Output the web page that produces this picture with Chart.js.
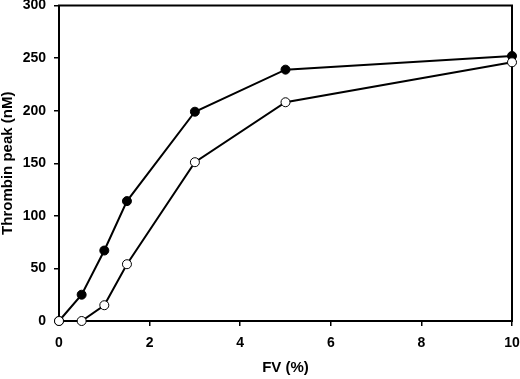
<!DOCTYPE html>
<html lang="en">
  <head>
    <meta charset="UTF-8" />
    <title>Thrombin peak vs FV</title>
    <script src="https://cdn.jsdelivr.net/npm/chart.js@4.4.1/dist/chart.umd.min.js"></script>
    <style>
      html, body { margin: 0; padding: 0; background: #fff; }
      #wrap { width: 520px; height: 379px; }
    </style>
  </head>
  <body>
    <div id="wrap"><canvas id="myChart"></canvas></div>

    <script>
      // FV concentration (%)
      var fvLevels = [0, 0.5, 1, 1.5, 3, 5, 10];
      // filled circles
      var peakFilled = [0, 25, 67, 114, 199, 239, 252];
      // open circles
      var peakOpen = [0, 0, 15, 54, 151, 208, 246];

      var xTicks = [0, 2, 4, 6, 8, 10];
      var yTicks = [0, 50, 100, 150, 200, 250, 300];

      function toPoints(xs, ys) {
        return xs.map(function (x, i) { return { x: x, y: ys[i] }; });
      }

      // box around the plot area (top and right sides too)
      var frame = {
        id: "frame",
        beforeDatasetsDraw: function (chart) {
          var a = chart.chartArea, ctx = chart.ctx;
          ctx.save();
          ctx.strokeStyle = "#000";
          ctx.lineWidth = 2;
          ctx.strokeRect(a.left, a.top, a.right - a.left, a.bottom - a.top);
          ctx.restore();
        }
      };

      var family = "'Liberation Sans', Arial, sans-serif";
      var tickFont = { family: family, size: 14, weight: "bold" };
      var titleFont = { family: family, size: 15, weight: "bold", lineHeight: 1 };

      new Chart(document.getElementById("myChart"), {
        type: "line",
        data: {
          datasets: [
            {
              label: "open",
              data: toPoints(fvLevels, peakOpen),
              borderColor: "#000",
              borderWidth: 2,
              pointRadius: 4.5,
              pointBackgroundColor: "#fff",
              pointBorderColor: "#000",
              pointBorderWidth: 1,
              order: 0,
              clip: false
            },
            {
              label: "filled",
              data: toPoints(fvLevels, peakFilled),
              borderColor: "#000",
              borderWidth: 2,
              pointRadius: 4.5,
              pointBackgroundColor: "#000",
              pointBorderColor: "#000",
              pointBorderWidth: 1,
              order: 1,
              clip: false
            }
          ]
        },
        options: {
          responsive: true,
          maintainAspectRatio: false,
          animation: false,
          layout: { padding: { left: 0, right: 8, top: 5, bottom: 0 } },
          plugins: { legend: { display: false }, tooltip: { enabled: false } },
          scales: {
            x: {
              type: "linear",
              min: 0,
              max: 10,
              afterBuildTicks: function (s) { s.ticks = xTicks.map(function (v) { return { value: v }; }); },
              afterFit: function (s) { s.height = 58; s.paddingLeft = 0; s.paddingRight = 0; },
              border: { display: false },
              grid: { drawOnChartArea: false, drawTicks: true, tickLength: 5, color: "#000", lineWidth: 1.5 },
              ticks: { color: "#000", font: tickFont, padding: 9, maxRotation: 0 },
              title: { display: true, text: "FV (%)", color: "#000", font: titleFont, padding: { top: 0, bottom: 4 } }
            },
            y: {
              min: 0,
              max: 300,
              afterBuildTicks: function (s) { s.ticks = yTicks.map(function (v) { return { value: v }; }); },
              afterFit: function (s) { s.width = 59; s.paddingTop = 0; s.paddingBottom = 0; },
              border: { display: false },
              grid: { drawOnChartArea: false, drawTicks: true, tickLength: 5, color: "#000", lineWidth: 1.5 },
              ticks: { color: "#000", font: tickFont, padding: 8 },
              title: { display: true, text: "Thrombin peak (nM)", color: "#000", font: titleFont, padding: { top: 0, bottom: 0 } }
            }
          }
        },
        plugins: [frame]
      });
    </script>
  </body>
</html>
